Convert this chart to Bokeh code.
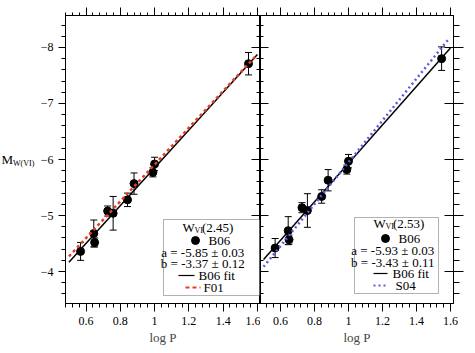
import numpy as np
from bokeh.plotting import figure
from bokeh.layouts import row
from bokeh.models import (Range1d, SingleIntervalTicker, LinearAxis, Whisker, ColumnDataSource,
                          TeeHead, Label, BoxAnnotation, CustomJSTickFormatter)
from bokeh.core.properties import value
from bokeh.embed import file_html
from bokeh.resources import INLINE

# ---------------- data ----------------
log_p = [0.568, 0.645, 0.65, 0.726, 0.758, 0.842, 0.88, 0.99, 1.0, 1.548]
mag_245 = [-4.36, -4.68, -4.52, -5.08, -5.04, -5.28, -5.57, -5.77, -5.92, -7.71]
err_245 = [0.16, 0.24, 0.08, 0.09, 0.30, 0.12, 0.19, 0.08, 0.12, 0.20]
mag_253 = [-4.42, -4.73, -4.57, -5.14, -5.09, -5.34, -5.63, -5.82, -5.97, -7.80]
err_253 = [0.17, 0.25, 0.08, 0.09, 0.30, 0.12, 0.19, 0.08, 0.12, 0.21]

b06_a_245, b06_b_245 = -5.85, -3.37
f01_a, f01_b = -5.91, -3.28
b06_a_253, b06_b_253 = -5.93, -3.43
s04_a, s04_b = -5.95, -3.73
fit_logp = [0.5, 1.6]
f01_logp = [0.5, 1.595]
s04_logp = [0.5, 1.59]

legend_245 = ["(2.45)", "B06", "a  =  -5.85 \u00b1 0.03", "b  =  -3.37 \u00b1 0.12", "B06 fit", "F01"]
legend_253 = ["(2.53)", "B06", "a  =  -5.93 \u00b1 0.03", "b  =  -3.43 \u00b1 0.11", "B06 fit", "S04"]
y_label_main, y_label_sub = "M", "W(VI)"

FONT = "Liberation Serif"
Y_BOTTOM, Y_TOP = -3.43, -8.57
FH = 288
RED = "#e0402a"
BLUE = "#5a5ae0"


def lin(a, b, xs):
    return [a + b * (x - 1.0) for x in xs]


def empty_fmt():
    return CustomJSTickFormatter(code="return ''")


def style_axis(ax, tin, tout, mtin, mtout):
    ax.major_tick_in = tin
    ax.major_tick_out = tout
    ax.minor_tick_in = mtin
    ax.minor_tick_out = mtout
    ax.axis_line_color = "black"
    ax.major_tick_line_color = "black"
    ax.minor_tick_line_color = "black"
    ax.major_label_text_font = FONT
    ax.major_label_text_font_size = "12px"
    ax.major_label_text_color = "black"


def make_fig(x0, x1, fw, lb, rb):
    p = figure(frame_width=fw, frame_height=FH, x_range=Range1d(x0, x1),
               y_range=Range1d(Y_BOTTOM, Y_TOP), output_backend="svg",
               toolbar_location=None, x_axis_location=None, y_axis_location=None,
               min_border_left=lb, min_border_right=rb, min_border_top=15,
               min_border_bottom=48)
    p.grid.visible = False
    p.outline_line_color = "black"
    p.outline_line_width = 1
    p.background_fill_color = "white"
    p.border_fill_color = "white"

    bottom = LinearAxis(ticker=SingleIntervalTicker(interval=0.2, num_minor_ticks=5),
                        axis_label="log P")
    style_axis(bottom, 0, 8, 0, 4)
    bottom.axis_label_text_font = FONT
    bottom.axis_label_text_font_size = "13px"
    bottom.axis_label_text_font_style = "normal"
    bottom.axis_label_standoff = 2
    p.add_layout(bottom, "below")

    top = LinearAxis(ticker=SingleIntervalTicker(interval=0.2, num_minor_ticks=5),
                     formatter=empty_fmt(), major_label_standoff=0)
    style_axis(top, 0, 8, 0, 3)
    top.major_label_text_font_size = "1px"
    p.add_layout(top, "above")
    return p


def add_panel(p, mags, errs):
    src = ColumnDataSource(dict(x=log_p, y=mags,
                                lo=[m - e for m, e in zip(mags, errs)],
                                hi=[m + e for m, e in zip(mags, errs)]))
    p.add_layout(Whisker(source=src, base="x", lower="lo", upper="hi", line_color="black",
                         line_width=1,
                         lower_head=TeeHead(size=7, line_color="black"),
                         upper_head=TeeHead(size=7, line_color="black")))
    p.scatter("x", "y", source=src, size=8, color="black")


def px_x(x0, x1, fw, px):
    return x0 + px * (x1 - x0) / fw


def px_y(py):
    return Y_TOP + py * (Y_BOTTOM - Y_TOP) / FH


def add_legend(p, x0, x1, fw, box, items, txt, sym_color, sym_dash, sym_width):
    fx = lambda v: px_x(x0, x1, fw, v)
    p.add_layout(BoxAnnotation(left=fx(box[0]), right=fx(box[1]), top=px_y(box[2]),
                               bottom=px_y(box[3]), fill_color="white", fill_alpha=1,
                               line_color="black", line_width=1, level="annotation"))
    kw = dict(text_font=FONT, text_color="black", text_baseline="middle", level="overlay")
    (wx, wy), (mx, my, bx), (ax_, ay), (by_,), (lx0, lx1, ly, tx), (dx0, dx1, dy, dtx) = items
    p.add_layout(Label(x=fx(wx), y=px_y(wy), text="W", text_font_size="13px", **kw))
    p.add_layout(Label(x=fx(wx + 12), y=px_y(wy + 3), text="VI", text_font_size="8px", **kw))
    p.add_layout(Label(x=fx(wx + 19.5), y=px_y(wy), text=txt[0], text_font_size="13px", **kw))
    p.add_layout(Label(x=fx(bx), y=px_y(my), text=txt[1], text_font_size="13px", **kw))
    p.add_layout(Label(x=fx(ax_), y=px_y(ay), text=txt[2], text_font_size="13px",
                       text_align="center", **kw))
    p.add_layout(Label(x=fx(ax_), y=px_y(by_), text=txt[3], text_font_size="13px",
                       text_align="center", **kw))
    p.add_layout(Label(x=fx(tx), y=px_y(ly), text=txt[4], text_font_size="13px", **kw))
    p.add_layout(Label(x=fx(dtx), y=px_y(dy), text=txt[5], text_font_size="13px", **kw))
    p.scatter([fx(mx)], [px_y(my)], size=8, color="black", level="overlay")
    p.line([fx(lx0), fx(lx1)], [px_y(ly), px_y(ly)], line_color="black", line_width=1.2,
           level="overlay")
    p.line([fx(dx0), fx(dx1)], [px_y(dy), px_y(dy)], line_color=sym_color,
           line_width=sym_width, line_dash=sym_dash, level="overlay")


# ---------------- y-axis title strip (its own small figure, pixel coordinates) ----------------
LAB_W = 36
pl = figure(frame_width=LAB_W, frame_height=FH, x_range=Range1d(0, LAB_W),
            y_range=Range1d(FH, 0), output_backend="svg", toolbar_location=None,
            x_axis_location=None, y_axis_location=None, min_border_left=0,
            min_border_right=0, min_border_top=15, min_border_bottom=48)
pl.grid.visible = False
pl.outline_line_color = None
pl.background_fill_color = "white"
pl.border_fill_color = "white"
pl.text(x=[1], y=[144], text=[y_label_main], text_font=value(FONT),
        text_font_size="13px", text_align="left", text_baseline="middle",
        text_color="black")
pl.text(x=[12.5], y=[148], text=[y_label_sub], text_font=value(FONT),
        text_font_size="8px", text_align="left", text_baseline="middle",
        text_color="black")

# ---------------- left panel ----------------
LX0, LX1, LFW = 0.48, 1.618, 195
p1 = make_fig(LX0, LX1, LFW, 29, 0)
left = LinearAxis(ticker=SingleIntervalTicker(interval=1, num_minor_ticks=5))
style_axis(left, 0, 7, 0, 4)
p1.add_layout(left, "left")
r1 = LinearAxis(ticker=SingleIntervalTicker(interval=1, num_minor_ticks=5),
                formatter=empty_fmt(), major_label_standoff=0)
style_axis(r1, 9, 0, 4, 0)
r1.major_label_text_font_size = "1px"
p1.add_layout(r1, "right")

add_panel(p1, mag_245, err_245)
p1.line(fit_logp, lin(b06_a_245, b06_b_245, fit_logp), line_color="black", line_width=1.5)
p1.line(f01_logp, lin(f01_a, f01_b, f01_logp), line_color=RED, line_width=2.5, line_dash="3 3")

add_legend(p1, LX0, LX1, LFW, (98, 194, 204, 280),
           [(117, 212), (130, 225, 143), (140.5, 237), (248,), (113, 129, 260, 133),
            (120, 135, 272, 138)],
           legend_245, RED, "4 3", 2)

# ---------------- right panel ----------------
RX0, RX1, RFW = 0.482, 1.618, 193
p2 = make_fig(RX0, RX1, RFW, 0, 20)
l2 = LinearAxis(ticker=SingleIntervalTicker(interval=1, num_minor_ticks=5),
                formatter=empty_fmt(), major_label_standoff=0)
style_axis(l2, 8, 0, 3, 0)
l2.major_label_text_font_size = "1px"
p2.add_layout(l2, "left")
r2 = LinearAxis(ticker=SingleIntervalTicker(interval=1, num_minor_ticks=5),
                formatter=empty_fmt(), major_label_standoff=0)
style_axis(r2, 9, 10, 0, 6)
r2.major_label_text_font_size = "1px"
p2.add_layout(r2, "right")

add_panel(p2, mag_253, err_253)
p2.line(fit_logp, lin(b06_a_253, b06_b_253, fit_logp), line_color="black", line_width=1.5)
p2.line(s04_logp, lin(s04_a, s04_b, s04_logp), line_color=BLUE, line_width=2.5, line_dash="2 3")

add_legend(p2, RX0, RX1, RFW, (94, 178, 202, 278),
           [(113, 208), (125, 223, 138), (135.5, 235), (247,), (113, 127, 258, 132),
            (113, 127, 270, 135)],
           legend_253, BLUE, "2 3", 2)

layout = row(pl, p1, p2, spacing=0)
open("out.html", "w").write(file_html(layout, INLINE))
